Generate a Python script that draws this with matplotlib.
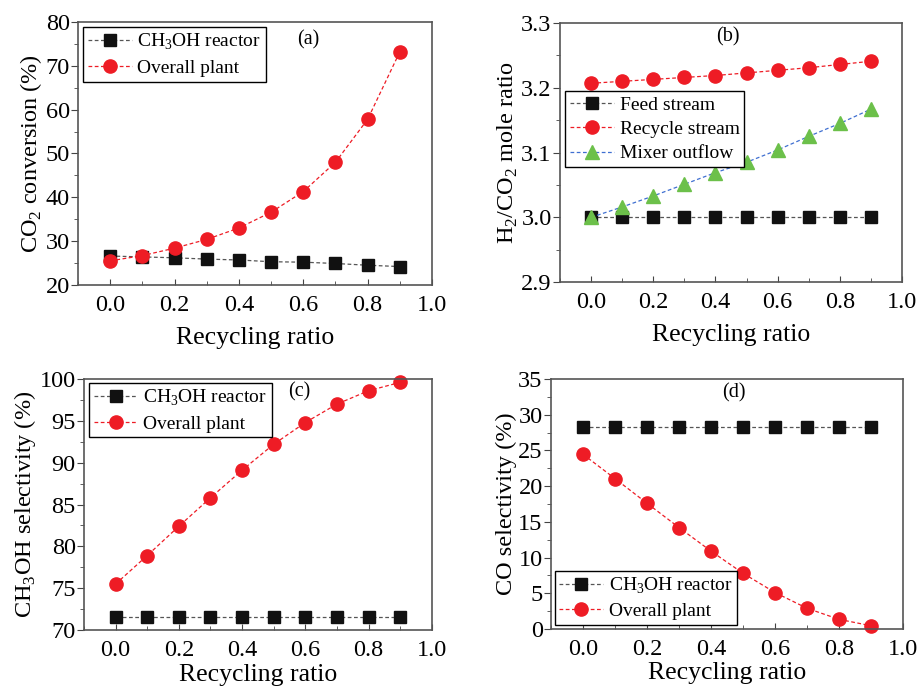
import numpy as np
import matplotlib
matplotlib.use('Agg')
import matplotlib.pyplot as plt
from matplotlib.ticker import MultipleLocator

plt.rcParams['font.family'] = ['Liberation Serif', 'DejaVu Serif']
plt.rcParams['mathtext.fontset'] = 'custom'
plt.rcParams['mathtext.rm'] = 'Liberation Serif'

# recycling ratio
ratio = [0.0, 0.1, 0.2, 0.3, 0.4, 0.5, 0.6, 0.7, 0.8, 0.9]

# (a) CO2 conversion (%)
conv_reactor = [26.6, 26.4, 26.2, 25.9, 25.7, 25.3, 25.2, 24.9, 24.5, 24.2]
conv_plant = [25.5, 26.7, 28.4, 30.4, 33.0, 36.6, 41.3, 48.0, 57.8, 73.2]

# (b) H2/CO2 mole ratio
h2co2_feed = [3.0, 3.0, 3.0, 3.0, 3.0, 3.0, 3.0, 3.0, 3.0, 3.0]
h2co2_recycle = [3.207, 3.210, 3.213, 3.216, 3.219, 3.223, 3.227, 3.231, 3.236, 3.241]
h2co2_mixer = [3.0, 3.016, 3.033, 3.051, 3.069, 3.085, 3.104, 3.125, 3.145, 3.167]

# (c) CH3OH selectivity (%)
sel_reactor = [71.6, 71.6, 71.6, 71.6, 71.6, 71.6, 71.6, 71.6, 71.6, 71.6]
sel_plant = [75.5, 78.9, 82.4, 85.8, 89.1, 92.2, 94.8, 97.0, 98.6, 99.6]

# (d) CO selectivity (%)
co_reactor = [28.3, 28.3, 28.3, 28.3, 28.3, 28.3, 28.3, 28.3, 28.3, 28.3]
co_plant = [24.45, 21.05, 17.6, 14.2, 10.9, 7.8, 5.1, 2.9, 1.35, 0.45]

BLACK = '#111111'
RED = '#ee1c25'
GREEN = '#6cc04a'
BLUE = '#3f6fd1'


def style_axes(ax, ylim, major, minor, ylabel, xpad=8):
    ax.set_xlim(-0.1, 1.0)
    ax.set_ylim(*ylim)
    ax.xaxis.set_major_locator(MultipleLocator(0.2))
    ax.xaxis.set_minor_locator(MultipleLocator(0.1))
    ax.yaxis.set_major_locator(MultipleLocator(major))
    ax.yaxis.set_minor_locator(MultipleLocator(minor))
    ax.xaxis.set_major_formatter(plt.FuncFormatter(lambda v, p: '%.1f' % v))
    ax.tick_params(axis='x', which='both', direction='in', labelsize=17.5, pad=7, colors='#444444', labelcolor='black')
    ax.tick_params(axis='x', which='major', length=4)
    ax.tick_params(axis='x', which='minor', length=3)
    ax.tick_params(axis='y', which='both', direction='out', labelsize=17.5, pad=1, colors='#444444', labelcolor='black')
    ax.tick_params(axis='y', which='major', length=5)
    ax.tick_params(axis='y', which='minor', length=3)
    for s in ax.spines.values():
        s.set_color('#555555')
        s.set_linewidth(1.2)
    ax.set_xlabel('Recycling ratio', fontsize=18.5, labelpad=xpad)
    ax.set_ylabel(ylabel, fontsize=17.5, labelpad=1)


def pair_plot(ax, y1, y2, l1, l2):
    ax.plot(ratio, y1, linestyle='--', color='#555555', lw=0.9, marker='s', ms=8.5,
            mfc=BLACK, mec=BLACK, label=l1, dashes=(3, 2))
    ax.plot(ratio, y2, linestyle='--', color=RED, lw=0.9, marker='o', ms=9.5,
            mfc=RED, mec=RED, label=l2, dashes=(3, 2))


def legend(ax, loc, anchor):
    lg = ax.legend(loc=loc, bbox_to_anchor=anchor, borderaxespad=0, fontsize=14,
                   frameon=True, fancybox=False, edgecolor='black', handlelength=2.25,
                   handletextpad=0.3, labelspacing=0.35, borderpad=0.25)
    lg.get_frame().set_linewidth(1.0)
    lg.get_frame().set_alpha(1)
    return lg


fig = plt.figure(figsize=(9.2, 6.88), dpi=100)
ax_a = fig.add_axes([0.0848, 0.5858, 0.3848, 0.3823])
ax_b = fig.add_axes([0.6087, 0.590, 0.3717, 0.3765])
ax_c = fig.add_axes([0.0913, 0.0843, 0.378, 0.3648])
ax_d = fig.add_axes([0.5989, 0.0858, 0.3826, 0.3634])

# (a)
pair_plot(ax_a, conv_reactor, conv_plant, r'CH$_3$OH reactor', 'Overall plant')
style_axes(ax_a, (20, 80), 10, 5, r'CO$_2$ conversion (%)')
legend(ax_a, 'upper left', (0.014, 0.98))
ax_a.text(0.65, 0.93, '(a)', transform=ax_a.transAxes, fontsize=14.5, ha='center', va='center')

# (b)
ax_b.plot(ratio, h2co2_feed, linestyle='--', color='#555555', lw=0.9, marker='s', ms=8.5,
          mfc=BLACK, mec=BLACK, label='Feed stream', dashes=(3, 2))
ax_b.plot(ratio, h2co2_recycle, linestyle='--', color=RED, lw=0.9, marker='o', ms=9.5,
          mfc=RED, mec=RED, label='Recycle stream', dashes=(3, 2))
ax_b.plot(ratio, h2co2_mixer, linestyle='--', color=BLUE, lw=0.9, marker='^', ms=9.5,
          mfc=GREEN, mec=GREEN, label='Mixer outflow', dashes=(3, 2))
style_axes(ax_b, (2.9, 3.3), 0.1, 0.05, r'H$_2$/CO$_2$ mole ratio')
ax_b.yaxis.set_major_formatter(plt.FuncFormatter(lambda v, p: '%.1f' % v))
legend(ax_b, 'upper left', (0.015, 0.737))
ax_b.text(0.49, 0.946, '(b)', transform=ax_b.transAxes, fontsize=14.5, ha='center', va='center')

# (c)
pair_plot(ax_c, sel_reactor, sel_plant, r'CH$_3$OH reactor', 'Overall plant')
style_axes(ax_c, (70, 100), 5, 2.5, r'CH$_3$OH selectivity (%)', xpad=2)
legend(ax_c, 'upper left', (0.014, 0.984))
ax_c.text(0.62, 0.95, '(c)', transform=ax_c.transAxes, fontsize=14.5, ha='center', va='center')

# (d)
pair_plot(ax_d, co_reactor, co_plant, r'CH$_3$OH reactor', 'Overall plant')
style_axes(ax_d, (0, 35), 5, 2.5, 'CO selectivity (%)', xpad=2)
legend(ax_d, 'lower left', (0.01, 0.016))
ax_d.text(0.52, 0.944, '(d)', transform=ax_d.transAxes, fontsize=14.5, ha='center', va='center')

for ax in (ax_a, ax_b, ax_c, ax_d):
    for ln in ax.get_lines():
        ln.set_clip_on(False)

fig.savefig('out.png', dpi=100)
